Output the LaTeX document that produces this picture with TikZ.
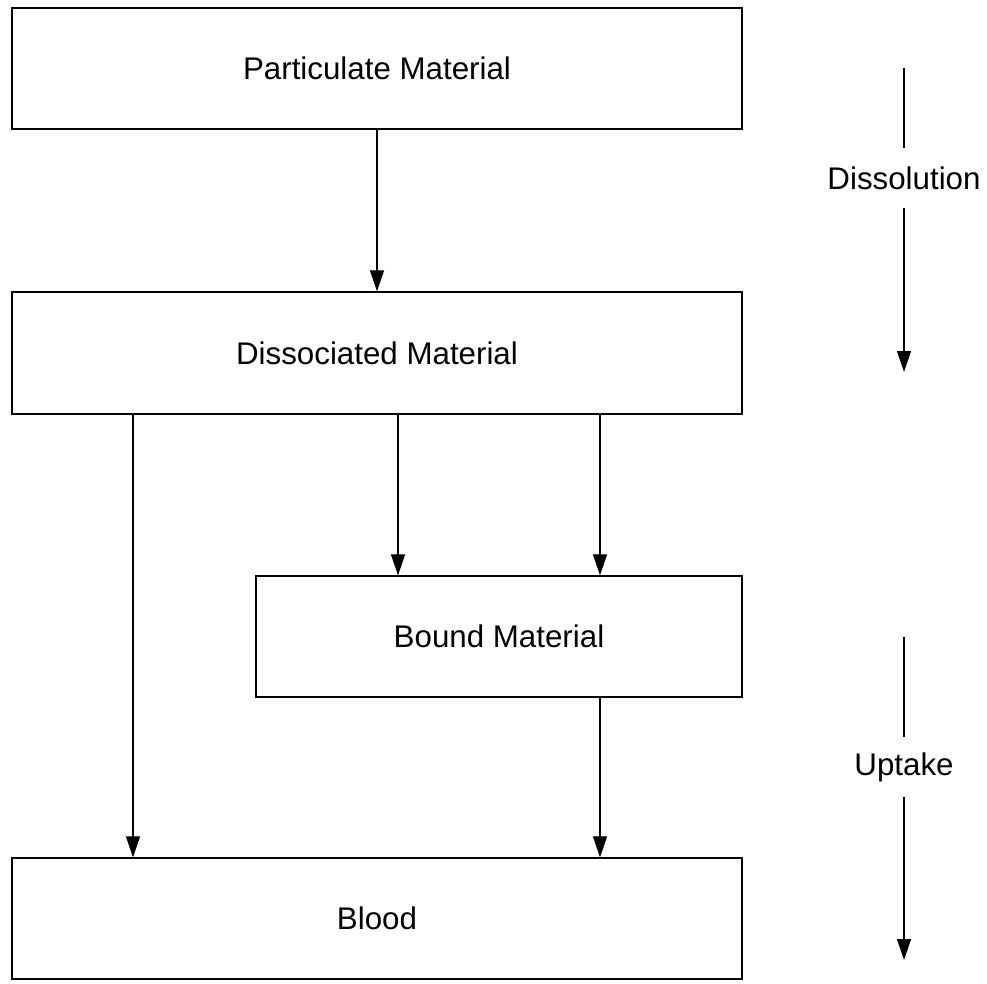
\documentclass[tikz,border=0pt]{standalone}
\usepackage{fontspec}
\setmainfont{Liberation Sans}
\usetikzlibrary{arrows.meta}
\begin{document}
\begin{tikzpicture}[x=1pt,y=-1pt,
  box/.style={draw=black,line width=1.3pt,rectangle,inner sep=0pt,
    font=\fontsize{31.3}{36}\selectfont},
  arr/.style={draw=black,line width=1.2pt,-{Triangle[length=21pt,width=14pt]}},
  plain/.style={draw=black,line width=1.2pt},
  lab/.style={rectangle,inner sep=0pt,minimum height=60pt,
    font=\fontsize{31.3}{36}\selectfont}]
\useasboundingbox (0,0) rectangle (987,984);
\fill[white] (0,0) rectangle (987,984);
\node[box,minimum width=730pt,minimum height=121pt] (part) at (377,68.5) {Particulate Material};
\node[box,minimum width=730pt,minimum height=122pt] (diss) at (377,353) {Dissociated Material};
\node[box,minimum width=486pt,minimum height=121pt] (bound) at (499,636.5) {Bound Material};
\node[box,minimum width=730pt,minimum height=121pt] (blood) at (377,918.5) {Blood};
\coordinate (c1) at (133,0);
\coordinate (c2) at (398,0);
\coordinate (c3) at (600,0);
\draw[arr] (part.south) -- (diss.north);
\draw[arr] (diss.south -| c1) -- (blood.north -| c1);
\draw[arr] (diss.south -| c2) -- (bound.north -| c2);
\draw[arr] (diss.south -| c3) -- (bound.north -| c3);
\draw[arr] (bound.south -| c3) -- (blood.north -| c3);
\node[lab] (dlab) at (904,178) {Dissolution};
\coordinate (d1) at (904,68);
\coordinate (d2) at (904,372);
\draw[plain] (d1) -- (dlab.north);
\draw[arr] (dlab.south) -- (d2);
\node[lab] (ulab) at (904,767) {Uptake};
\coordinate (u1) at (904,637);
\coordinate (u2) at (904,960);
\draw[plain] (u1) -- (ulab.north);
\draw[arr] (ulab.south) -- (u2);
\end{tikzpicture}
\end{document}
